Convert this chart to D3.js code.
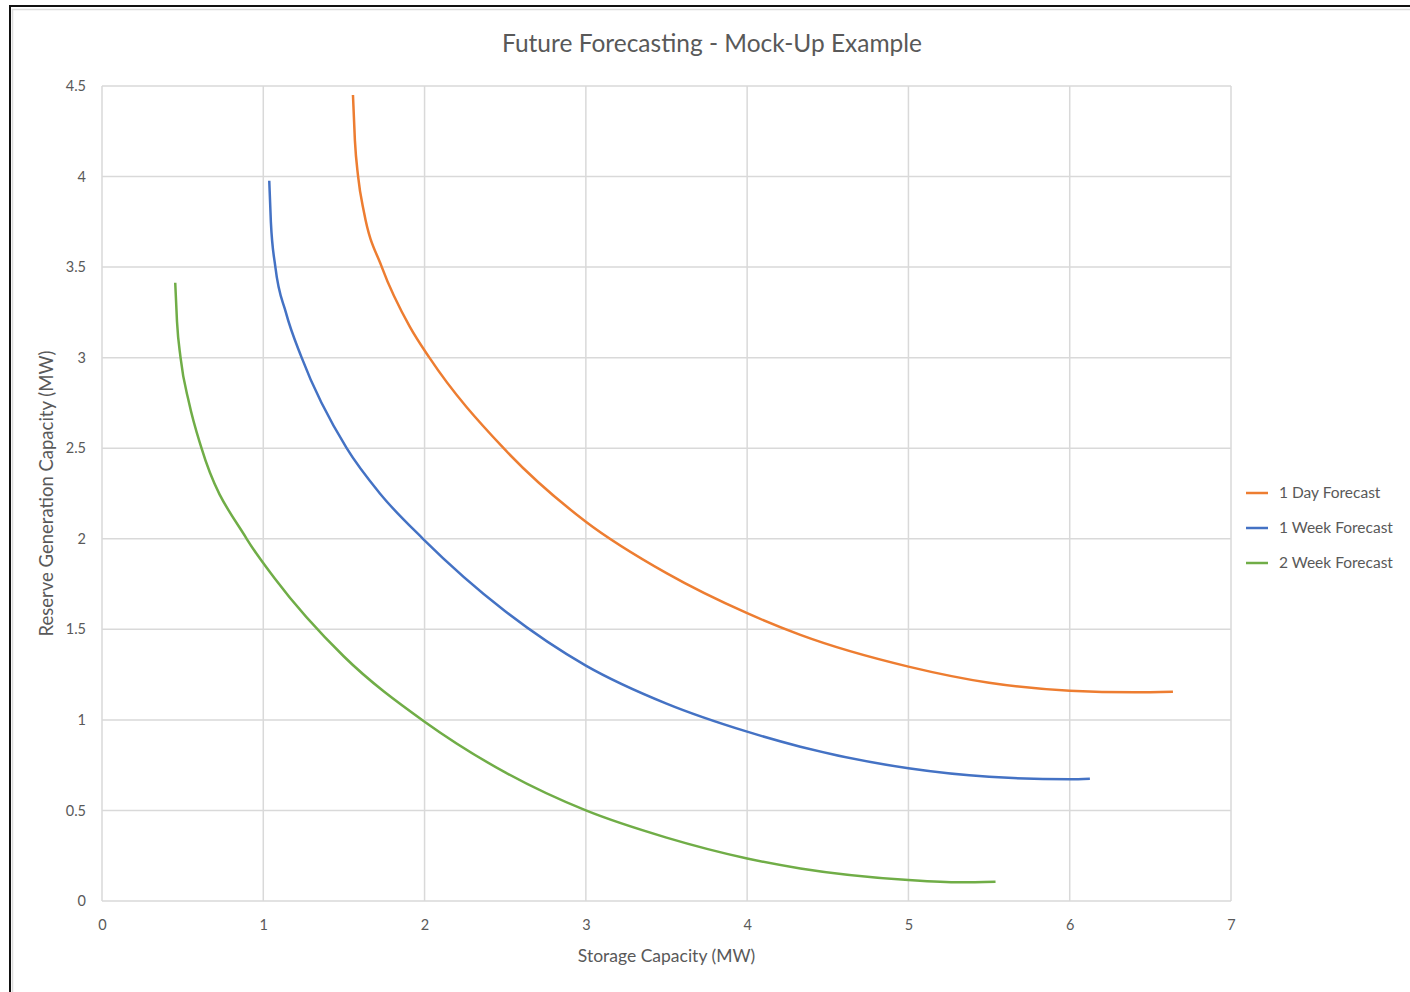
<!DOCTYPE html>
<html lang="en">
<head>
    <meta charset="UTF-8">
    <title>Future Forecasting - Mock-Up Example</title>
    <script src="https://d3js.org/d3.v7.min.js"></script>
    <style>
        body { margin: 0; background: #fff; }
        text { font-family: "Lato", "Open Sans", sans-serif; fill: #595959; }
    </style>
</head>
<body>
    <div id="chart"></div>
    <script>
        // Series values
        const seriesNames = ["1 Day Forecast", "1 Week Forecast", "2 Week Forecast"];
        const seriesColors = ["#ED7D31", "#4472C4", "#70AD47"];

        const dayX = [1.556, 1.568, 1.588, 1.625, 1.735, 1.909, 2.03, 2.49, 3.0, 3.5, 4.0, 4.33, 5.0, 5.5, 6.0, 6.4, 6.64];
        const dayY = [4.45, 4.2, 4.0, 3.8, 3.5, 3.17, 3.0, 2.5, 2.094, 1.81, 1.589, 1.469, 1.294, 1.205, 1.161, 1.152, 1.155];

        const weekX = [1.037, 1.047, 1.075, 1.14, 1.238, 1.517, 1.723, 1.99, 2.5, 3.0, 3.5, 4.0, 4.33, 5.0, 5.5, 6.0, 6.125];
        const weekY = [3.977, 3.75, 3.5, 3.25, 3.0, 2.5, 2.25, 2.0, 1.6, 1.3, 1.09, 0.935, 0.852, 0.733, 0.686, 0.672, 0.675];

        const twoWeekX = [0.454, 0.465, 0.487, 0.54, 0.617, 0.897, 1.07, 1.5, 2.0, 2.5, 3.0, 3.5, 4.0, 4.33, 5.0, 5.32, 5.54];
        const twoWeekY = [3.414, 3.2, 3.0, 2.75, 2.5, 2.0, 1.782, 1.35, 0.99, 0.71, 0.5, 0.35, 0.235, 0.18, 0.116, 0.103, 0.106];

        const xTicks = [0, 1, 2, 3, 4, 5, 6, 7];
        const yTicks = [0, 0.5, 1, 1.5, 2, 2.5, 3, 3.5, 4, 4.5];

        const width = 1410;
        const height = 992;
        const margin = { top: 86, right: 179, bottom: 91, left: 102 };

        const svg = d3.select("#chart")
            .append("svg")
            .attr("width", width)
            .attr("height", height);

        // outer frame (only top and left are visible in the picture)
        svg.append("rect")
            .attr("x", 10).attr("y", 6)
            .attr("width", width + 20).attr("height", height + 20)
            .attr("fill", "none")
            .attr("stroke", "#111")
            .attr("stroke-width", 2);
        svg.append("rect")
            .attr("x", 12.5).attr("y", 9.5)
            .attr("width", width + 20).attr("height", height + 20)
            .attr("fill", "none")
            .attr("stroke", "#dcdcdc")
            .attr("stroke-width", 1.5);

        const x = d3.scaleLinear()
            .domain([0, 7])
            .range([margin.left, width - margin.right]);

        const y = d3.scaleLinear()
            .domain([0, 4.5])
            .range([height - margin.bottom, margin.top]);

        // gridlines
        svg.append("g")
            .selectAll("line")
            .data(xTicks)
            .enter().append("line")
            .attr("x1", d => x(d)).attr("x2", d => x(d))
            .attr("y1", y(0)).attr("y2", y(4.5))
            .attr("stroke", "#d9d9d9")
            .attr("stroke-width", 1.5);

        svg.append("g")
            .selectAll("line")
            .data(yTicks)
            .enter().append("line")
            .attr("x1", x(0)).attr("x2", x(7))
            .attr("y1", d => y(d)).attr("y2", d => y(d))
            .attr("stroke", "#d9d9d9")
            .attr("stroke-width", 1.5);

        // x axis labels
        const xAxis = svg.append("g")
            .attr("transform", "translate(0," + y(0) + ")")
            .call(d3.axisBottom(x).tickValues(xTicks).tickSize(0).tickPadding(19).tickFormat(d3.format("d")));
        xAxis.select(".domain").remove();
        xAxis.selectAll("text")
            .style("font-size", "14.5px")
            .style("font-family", "Lato, 'Open Sans', sans-serif")
            .attr("fill", "#595959");

        // y axis labels
        const yAxis = svg.append("g")
            .attr("transform", "translate(" + x(0) + ",0)")
            .call(d3.axisLeft(y).tickValues(yTicks).tickSize(0).tickPadding(16).tickFormat(d => String(d)));
        yAxis.select(".domain").remove();
        yAxis.selectAll("text")
            .style("font-size", "14.5px")
            .style("font-family", "Lato, 'Open Sans', sans-serif")
            .attr("fill", "#595959");

        // title
        svg.append("text")
            .attr("x", 712)
            .attr("y", 52)
            .attr("text-anchor", "middle")
            .style("font-size", "24.5px")
            .text("Future Forecasting - Mock-Up Example");

        // axis titles
        svg.append("text")
            .attr("x", (x(0) + x(7)) / 2)
            .attr("y", 962)
            .attr("text-anchor", "middle")
            .style("font-size", "17.5px")
            .text("Storage Capacity (MW)");

        svg.append("text")
            .attr("transform", "rotate(-90)")
            .attr("x", -(y(0) + y(4.5)) / 2)
            .attr("y", 53)
            .attr("text-anchor", "middle")
            .style("font-size", "18.5px")
            .text("Reserve Generation Capacity (MW)");

        // series
        const series = [
            { name: seriesNames[0], color: seriesColors[0], values: dayX.map((v, i) => ({ x: v, y: dayY[i] })) },
            { name: seriesNames[1], color: seriesColors[1], values: weekX.map((v, i) => ({ x: v, y: weekY[i] })) },
            { name: seriesNames[2], color: seriesColors[2], values: twoWeekX.map((v, i) => ({ x: v, y: twoWeekY[i] })) }
        ];

        const line = d3.line()
            .x(d => x(d.x))
            .y(d => y(d.y))
            .curve(d3.curveMonotoneX);

        svg.selectAll(".series")
            .data(series)
            .enter().append("path")
            .attr("class", "series")
            .attr("fill", "none")
            .attr("stroke", d => d.color)
            .attr("stroke-width", 2.5)
            .attr("d", d => line(d.values));

        // legend
        const legend = svg.append("g")
            .selectAll("g")
            .data(series)
            .enter().append("g")
            .attr("transform", (d, i) => "translate(1246," + (493 + i * 35) + ")");

        legend.append("line")
            .attr("x1", 0).attr("x2", 22)
            .attr("stroke", d => d.color)
            .attr("stroke-width", 2.5);

        legend.append("text")
            .attr("x", 33)
            .attr("y", 5)
            .style("font-size", "15.5px")
            .text(d => d.name);
    </script>
</body>
</html>
